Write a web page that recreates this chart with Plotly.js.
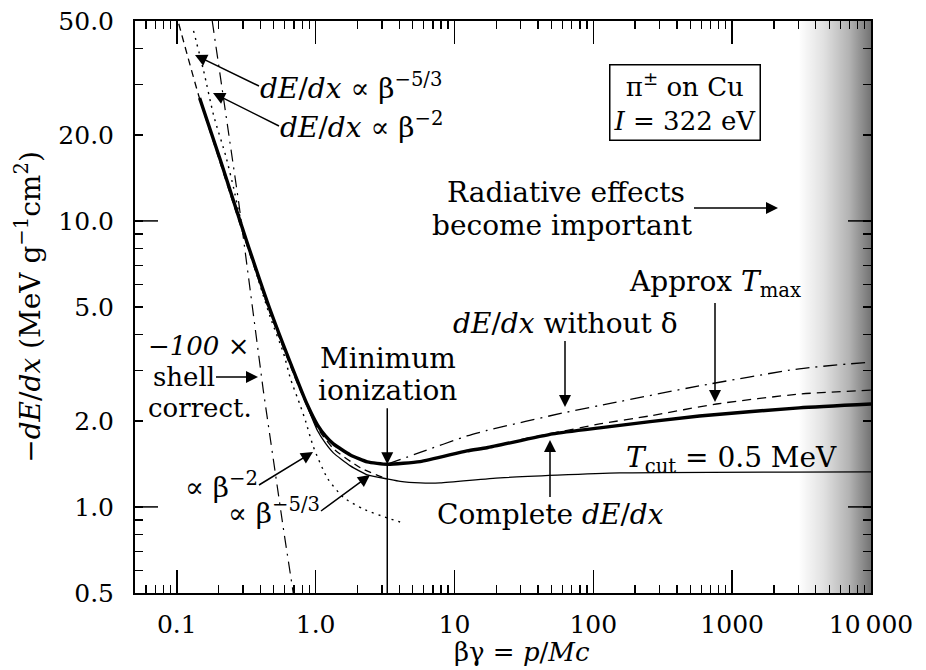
<!DOCTYPE html>
<html>
<head>
<meta charset="utf-8">
<script src="https://cdn.plot.ly/plotly-3.0.1.min.js"></script>
<style>html,body{margin:0;padding:0;background:#fff;}#chart{width:926px;height:670px;}</style>
</head>
<body>
<div id="chart"></div>
<script>
// ---- data ----
const bgComplete   = [0.146, 0.207, 0.257, 0.313, 0.473, 0.74, 0.873, 1.03, 1.176, 1.342, 1.778, 2.356, 3.28, 5.66, 12.3, 17.1, 51, 111, 581, 3040, 10000];
const dedxComplete = [26.9, 16.2, 11.7, 8.72, 4.85, 2.76, 2.27, 1.935, 1.771, 1.661, 1.52, 1.437, 1.41, 1.44, 1.57, 1.61, 1.80, 1.89, 2.08, 2.22, 2.29];

const bgTcut   = [0.146, 0.207, 0.257, 0.313, 0.473, 0.74, 0.873, 1.03, 1.176, 1.342, 1.778, 2.356, 3.28, 4.066, 5.66, 7.88, 21.3, 155, 10000];
const dedxTcut = [26.9, 16.2, 11.7, 8.72, 4.85, 2.76, 2.24, 1.85, 1.67, 1.545, 1.391, 1.294, 1.253, 1.228, 1.213, 1.213, 1.263, 1.315, 1.326];

const bgNoDelta   = [3.28, 5.66, 12.3, 17.1, 60.3, 138, 581, 3040, 10000];
const dedxNoDelta = [1.41, 1.55, 1.77, 1.85, 2.13, 2.31, 2.65, 3.04, 3.21];

const bgTmax   = [30, 51, 111, 254, 770, 3040, 10000];
const dedxTmax = [1.72, 1.81, 1.95, 2.08, 2.29, 2.48, 2.56];

const bgBeta2   = [0.132, 0.156, 0.1845, 0.225, 0.257, 0.279, 0.35, 0.473, 0.587, 0.66, 0.778, 0.845, 0.964, 1.216, 1.584, 2.2, 3.28, 4.27];
const dedxBeta2 = [46.2, 33.5, 23.3, 16.9, 13.0, 10.8, 7.3, 4.58, 3.45, 2.8, 2.25, 2.0, 1.62, 1.26, 1.08, 0.984, 0.915, 0.879];

const bgBeta53   = [0.1033, 0.1439, 0.207, 0.313, 0.473, 0.74, 1.03, 1.342, 2.1, 3.02];
const dedxBeta53 = [48.9, 27.4, 15.8, 8.5, 4.72, 2.7, 1.89, 1.6, 1.37, 1.27];

const bgShell   = [0.18, 0.28, 0.42, 0.50, 0.59, 0.69];
const shellX100 = [50, 11.5, 2.55, 1.41, 0.82, 0.5];

const radiativeFrom = 3000;   // beta*gamma where the shaded region begins
const radiativeTo = 10000;

const xTickVals = [0.1, 1, 10, 100, 1000, 10000];
const xTickText = ['0.1', '1.0', '10', '100', '1000', '10\u2009000'];
const xMinorVals = [0.06, 0.07, 0.08, 0.09, 0.2, 0.3, 0.4, 0.5, 0.6, 0.7, 0.8, 0.9,
  2, 3, 4, 5, 6, 7, 8, 9, 20, 30, 40, 50, 60, 70, 80, 90, 200, 300, 400, 500, 600, 700, 800, 900,
  2000, 3000, 4000, 5000, 6000, 7000, 8000, 9000];
const yTickVals = [0.5, 1, 2, 5, 10, 20, 50];
const yTickText = ['0.5', '1.0', '2.0', '5.0', '10.0', '20.0', '50.0'];
const yMinorVals = [0.6, 0.7, 0.8, 0.9, 3, 4, 6, 7, 8, 9, 30, 40];
const yDecades = [1, 10];

// ---- geometry helpers ----
const W = 926, H = 670;
const M = {l: 135, r: 55, t: 21, b: 77};
const PW = W - M.l - M.r, PH = H - M.t - M.b;
const px = x => (x - M.l) / PW;
const py = y => (H - M.b - y) / PH;
const L = Math.log10;
const FONT = 'DejaVu Serif';

// minimum of the complete curve
let iMin = 0;
dedxComplete.forEach((v, i) => { if (v < dedxComplete[iMin]) iMin = i; });
const minBg = bgComplete[iMin], minDedx = dedxComplete[iMin];

const traces = [
  {x: [radiativeFrom, radiativeTo, radiativeTo, radiativeFrom, radiativeFrom],
   y: [0.5, 0.5, 50, 50, 0.5], mode: 'none', fill: 'toself',
   fillgradient: {type: 'horizontal', colorscale: [[0, 'rgba(0,0,0,0)'], [0.35, 'rgba(0,0,0,0.12)'], [0.7, 'rgba(0,0,0,0.3)'], [1, 'rgba(0,0,0,0.55)']]}},
  {x: bgShell, y: shellX100, mode: 'lines', line: {color: '#000', width: 1.2, dash: '12px,6px,2px,6px'}},
  {x: bgBeta2, y: dedxBeta2, mode: 'lines', line: {color: '#000', width: 1.4, dash: '2px,5px', shape: 'spline', smoothing: 0.6}},
  {x: bgBeta53, y: dedxBeta53, mode: 'lines', line: {color: '#000', width: 1.3, dash: '7px,5px', shape: 'spline', smoothing: 0.6}},
  {x: bgTmax, y: dedxTmax, mode: 'lines', line: {color: '#000', width: 1.3, dash: '9px,6px', shape: 'spline', smoothing: 0.6}},
  {x: bgNoDelta, y: dedxNoDelta, mode: 'lines', line: {color: '#000', width: 1.3, dash: '14px,6px,2px,6px', shape: 'spline', smoothing: 0.6}},
  {x: bgTcut, y: dedxTcut, mode: 'lines', line: {color: '#000', width: 1.3, shape: 'spline', smoothing: 0.5}},
  {x: bgComplete, y: dedxComplete, mode: 'lines', line: {color: '#000', width: 3.4, shape: 'spline', smoothing: 0.5}}
].map(t => Object.assign({showlegend: false, hoverinfo: 'skip'}, t));

// text only, placed by pixel position of its anchor
function txt(text, x, y, xanchor, yanchor, size) {
  return {text: text, showarrow: false, xanchor: xanchor || 'left', yanchor: yanchor || 'middle',
    borderpad: 0, font: {family: FONT, size: size || 28, color: '#000'},
    x: px(x), y: py(y), xref: 'paper', yref: 'paper'};
}
// text whose anchor (tail) is at (tailX, tailY) with an arrow to (tipX, tipY)
function txtArrow(text, tailX, tailY, tipX, tipY, xanchor, yanchor, size) {
  return {text: text, showarrow: true, xanchor: xanchor, yanchor: yanchor, borderpad: 0,
    font: {family: FONT, size: size || 28, color: '#000'},
    x: px(tipX), y: py(tipY), xref: 'paper', yref: 'paper',
    ax: tailX - tipX, ay: tailY - tipY, arrowhead: 2, arrowsize: 1.6, arrowwidth: 1.5,
    arrowcolor: '#000', standoff: 0};
}

const dEdx = '<i>dE</i>/<i>dx</i>';
const annotations = [
  txtArrow(dEdx + ' \u221d \u03b2<sup>\u22125/3</sup>', 259, 86, 195, 55, 'left', 'middle'),
  txtArrow(dEdx + ' \u221d \u03b2<sup>\u22122</sup>', 279, 126, 213, 93, 'left', 'middle'),
  Object.assign(txt('\u03c0<sup>\u00b1</sup> on Cu<br><i>I</i> = 322 eV', 685, 103, 'center', 'middle', 26),
    {bordercolor: '#000', borderwidth: 1.5, borderpad: 3, bgcolor: '#fff'}),
  txt('Radiative effects', 686, 192, 'right'),
  txtArrow('become important', 694, 208, 778, 208, 'right', 'top'),
  txtArrow('Approx <i>T</i><sub>max</sub>', 715, 303, 715, 402, 'center', 'bottom'),
  txtArrow(dEdx + ' without \u03b4', 565, 341, 565, 407, 'center', 'bottom'),
  txt('Minimum', 388, 358, 'center'),
  {text: 'ionization', showarrow: true, xanchor: 'center', yanchor: 'bottom', borderpad: 0,
   font: {family: FONT, size: 28, color: '#000'},
   x: L(minBg), y: L(minDedx), xref: 'x', yref: 'y', ax: 0, ay: -56,
   arrowhead: 2, arrowsize: 1.6, arrowwidth: 1.5, arrowcolor: '#000', standoff: 0},
  txt('<i>T</i><sub>cut</sub> = 0.5 MeV', 625, 459),
  txtArrow('Complete ' + dEdx, 550, 497, 550, 440, 'center', 'top'),
  txt('<i>\u2212100</i> \u00d7', 147, 346, 'left', 'middle', 26),
  txtArrow('shell', 216, 377, 258, 377, 'right', 'middle', 26),
  txt('correct.', 147, 408, 'left', 'middle', 26),
  txtArrow('\u221d \u03b2<sup>\u22122</sup>', 259, 485, 313, 452, 'right', 'middle'),
  txtArrow('\u221d \u03b2<sup>\u22125/3</sup>', 321, 511, 370, 475, 'right', 'middle'),
  txt('\u03b2\u03b3 = <i>p</i>/<i>Mc</i>', 522, 652, 'center', 'middle', 26)
];

const tickLong = 23 / PW;
const shapes = [];
yDecades.forEach(v => {
  shapes.push({type: 'line', xref: 'paper', yref: 'y', x0: 0, x1: tickLong, y0: v, y1: v, line: {color: '#000', width: 1.5}});
  shapes.push({type: 'line', xref: 'paper', yref: 'y', x0: 1 - tickLong, x1: 1, y0: v, y1: v, line: {color: '#000', width: 1.5}});
});
shapes.push({type: 'line', xref: 'x', yref: 'y', x0: minBg, x1: minBg, y0: 0.5, y1: minDedx, line: {color: '#000', width: 1.5}});

const axisCommon = {
  type: 'log', showline: true, linewidth: 2, linecolor: '#000', mirror: 'ticks',
  ticks: 'inside', tickcolor: '#000', tickwidth: 1.5, showgrid: false, zeroline: false,
  tickfont: {family: FONT, size: 25, color: '#000'}, tickmode: 'array'
};

const layout = {
  width: W, height: H, margin: M, paper_bgcolor: '#fff', plot_bgcolor: '#fff', showlegend: false,
  xaxis: Object.assign({}, axisCommon, {
    range: [L(0.05), L(10000)], tickvals: xTickVals, ticktext: xTickText, ticklen: 23,
    ticklabelstandoff: 8,
    minor: {tickmode: 'array', tickvals: xMinorVals, ticks: 'inside', ticklen: 8, tickwidth: 1.3, tickcolor: '#000'}
  }),
  yaxis: Object.assign({}, axisCommon, {
    range: [L(0.5), L(50)], tickvals: yTickVals, ticktext: yTickText, ticklen: 8,
    ticklabelstandoff: 14,
    minor: {tickmode: 'array', tickvals: yMinorVals, ticks: 'inside', ticklen: 8, tickwidth: 1.3, tickcolor: '#000'},
    title: {text: '\u2212<i>dE</i>/<i>dx</i> (MeV g<sup>\u22121</sup>cm<sup>2</sup>)', font: {family: FONT, size: 28, color: '#000'}, standoff: 10}
  }),
  annotations: annotations,
  shapes: shapes
};

Plotly.newPlot('chart', traces, layout, {staticPlot: true, displayModeBar: false});
</script>
</body>
</html>
